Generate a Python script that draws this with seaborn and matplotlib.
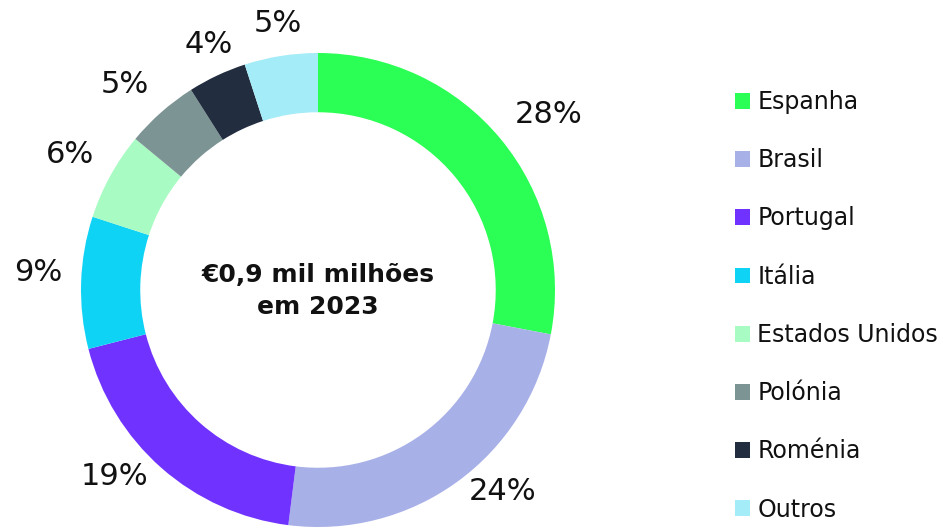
import matplotlib
matplotlib.use("Agg")
import numpy as np
import matplotlib.pyplot as plt
import seaborn as sns
from matplotlib.patches import Patch

categories = ["Espanha", "Brasil", "Portugal", "Itália", "Estados Unidos", "Polónia", "Roménia", "Outros"]
values = [28, 24, 19, 9, 6, 5, 4, 5]
colors = ["#2BFE55", "#A8B0E8", "#7033FF", "#0FD3F5", "#A8FBC2", "#7D9494", "#222E40", "#A3ECF8"]
center_text = "€0,9 mil milhões\nem 2023"

sns.set_theme(style="white")
plt.rcParams["font.family"] = ["DejaVu Sans"]
palette = sns.color_palette(colors)

fig = plt.figure(figsize=(9.43, 5.28), dpi=100)
ax = fig.add_axes([0, 0, 1, 1])
wedges, _ = ax.pie(
    values, colors=palette, startangle=90, counterclock=False,
    wedgeprops=dict(width=0.25, linewidth=0),
)

R = 237.0
cx, cy = 318.0, 290.0
ymin = -(528 - cy) / R
ax.set_xlim(-cx / R, (943 - cx) / R)
ax.set_ylim(ymin, cy / R)
ax.set_aspect("equal", adjustable="box")
ax.axis("off")

total = sum(values)
for w, v in zip(wedges, values):
    ang = np.deg2rad((w.theta1 + w.theta2) / 2)
    c, s = np.cos(ang), np.sin(ang)
    x = 1.08 * c
    y = max(1.1 * s + 0.04, ymin + 0.15)  # keep labels inside the plot area
    if abs(c) < 0.5:
        ha = "center"
    elif c > 0:
        ha = "left"
    else:
        ha = "right"
    ax.text(x, y, f"{100 * v / total:.0f}%", ha=ha, va="center",
            fontsize=22, color="#111111")

ax.text(0, -0.005, center_text, ha="center", va="center", fontsize=18,
        fontweight="bold", color="#111111", linespacing=1.42)

handles = [Patch(facecolor=c, edgecolor="none") for c in palette]
leg = fig.legend(handles, categories, loc="upper left", bbox_to_anchor=(735 / 943, 1 - 90 / 528),
                 frameon=False, fontsize=17, handlelength=0.65, handleheight=0.65,
                 handletextpad=0.3, labelspacing=1.45, borderaxespad=0, borderpad=0)
for t in leg.get_texts():
    t.set_color("#111111")

fig.savefig("out.png", dpi=100)
